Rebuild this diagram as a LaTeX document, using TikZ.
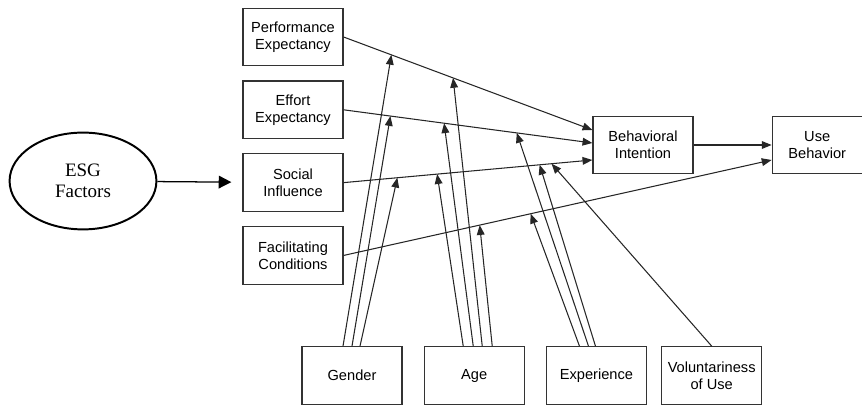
\documentclass[tikz,border=0pt]{standalone}
\usepackage{fontspec}
\setmainfont{Liberation Sans}
\newfontfamily\esgfont{Liberation Serif}
\usetikzlibrary{
	arrows.meta,
	positioning,
	shapes.geometric,
	calc
}

\begin{document}
\begin{tikzpicture}[
			x=0.025cm, y=-0.025cm,
			font=\fontsize{10.4}{12}\selectfont,
			fator/.style={draw=black!80, line width=0.85pt, minimum width=2.5cm, minimum height=1.44cm, align=center, inner sep=1pt},
			moder/.style={fator},
			esg/.style={draw, ellipse, line width=1.4pt, minimum width=3.67cm, minimum height=2.42cm, align=center, font=\esgfont\fontsize{13.5}{15}\selectfont},
			fl/.style={-{Triangle[length=7pt, width=5.5pt]}, line width=0.75pt, draw=black!85},
			fle/.style={-{Triangle[length=9pt, width=9pt]}, line width=0.9pt}
		]

		\useasboundingbox (0,0) rectangle (862,405);

		% constructs on the left
		\node[fator] (c1) at (293,37) {Performance\\ Expectancy};
		\node[fator, below=0.35cm of c1] (c2) {Effort\\ Expectancy};
		\node[fator, below=0.35cm of c2] (c3) {Social\\ Influence};
		\node[fator, below=0.35cm of c3] (c4) {Facilitating\\ Conditions};

		\node[fator] (b1) at (643,145) {Behavioral\\ Intention};
		\node[fator, minimum width=2.25cm, right=1.95cm of b1] (b2) {Use\\ Behavior};

		% moderators
		\node[moder] (m1) at (352,375.5) {Gender};
		\node[moder, right=0.525cm of m1] (m2) {Age};
		\node[moder, right=0.525cm of m2] (m3) {Experience};
		\node[moder, right=0.35cm of m3] (m4) {Voluntariness\\ of Use};

		\node[esg] (e1) at (83,181) {ESG\\ Factors};

		\coordinate (p1) at ($(b1.west)+(0,-15)$);
		\coordinate (p2) at ($(b1.west)+(0,-2)$);
		\coordinate (p3) at ($(b1.west)+(0,15)$);
		\coordinate (p4) at ($(b2.west)+(0,15)$);

		\draw[fle, shorten >=0.275cm] (e1) -- (c3);
		\draw[fl] (c1.east) -- (p1);
		\draw[fl] (c2.east) -- (p2);
		\draw[fl] (c3.east) -- (p3);
		\draw[fl] (c4.east) -- (p4);
		\draw[fl] (b1) -- (b2);

		% points where the moderators meet the paths
		\coordinate (x11) at ($(c1.east)!0.192!(p1)$);
		\coordinate (x12) at ($(c1.east)!0.44!(p1)$);
		\coordinate (x21) at ($(c2.east)!0.188!(p2)$);
		\coordinate (x22) at ($(c2.east)!0.404!(p2)$);
		\coordinate (x23) at ($(c2.east)!0.696!(p2)$);
		\coordinate (x31) at ($(c3.east)!0.216!(p3)$);
		\coordinate (x32) at ($(c3.east)!0.376!(p3)$);
		\coordinate (x33) at ($(c3.east)!0.788!(p3)$);
		\coordinate (x34) at ($(c3.east)!0.836!(p3)$);
		\coordinate (x41) at ($(c4.east)!0.318!(p4)$);
		\coordinate (x42) at ($(c4.east)!0.437!(p4)$);

		\draw[fl] ($(m1.north)+(-9,0)$) -- (x11);
		\draw[fl] (m1.north) -- (x21);
		\draw[fl] ($(m1.north)+(8,0)$) -- (x31);

		\draw[fl] ($(m2.north)+(-11,0)$) -- (x32);
		\draw[fl] ($(m2.north)+(-1,0)$) -- (x22);
		\draw[fl] ($(m2.north)+(8,0)$) -- (x12);
		\draw[fl] ($(m2.north)+(18,0)$) -- (x41);

		\draw[fl] ($(m3.north)+(-17,0)$) -- (x42);
		\draw[fl] ($(m3.north)+(-8,0)$) -- (x23);
		\draw[fl] ($(m3.north)+(-1,0)$) -- (x33);

		\draw[fl] (m4.north) -- (x34);
	\end{tikzpicture}
\end{document}
